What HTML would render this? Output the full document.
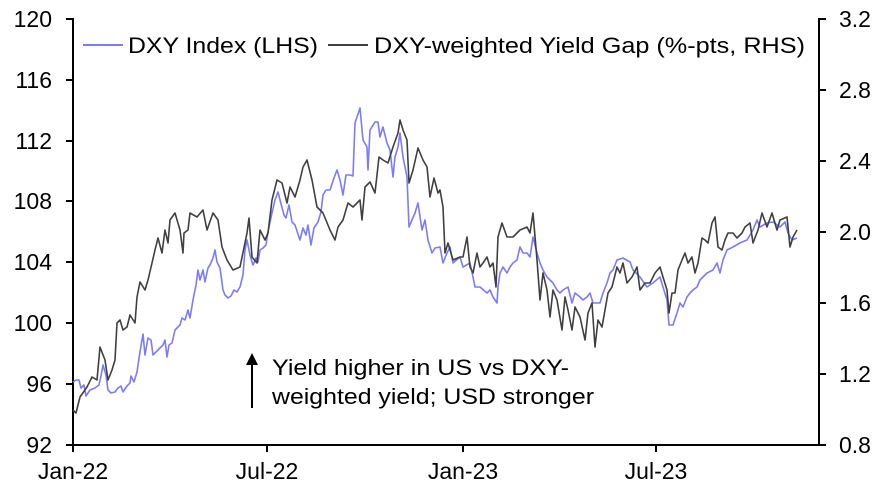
<!DOCTYPE html>
<html><head><style>body{margin:0;background:#fff}svg{display:block}text{font-family:"Liberation Sans",Arial,sans-serif;fill:#000}</style></head>
<body>
<svg width="886" height="489" viewBox="0 0 886 489" xmlns="http://www.w3.org/2000/svg">
<g stroke="#000" stroke-width="2" fill="none">
<line x1="73" y1="18" x2="73" y2="445"/>
<line x1="819" y1="18" x2="819" y2="445"/>
<line x1="72" y1="445" x2="820" y2="445"/>
<path d="M66 19H73M66 80H73M66 141H73M66 201H73M66 262H73M66 323H73M66 384H73M66 445H73"/>
<path d="M819 19H826M819 90H826M819 161H826M819 232H826M819 303H826M819 374H826M819 445H826"/>
<path d="M73 445V452M267 445V452M463 445V452M656 445V452"/>
</g>
<g font-size="23" text-anchor="end">
<text x="52" y="27">120</text><text x="52" y="88">116</text><text x="52" y="149">112</text><text x="52" y="209">108</text><text x="52" y="270">104</text><text x="52" y="331">100</text><text x="52" y="392">96</text><text x="52" y="453">92</text>
</g>
<g font-size="23">
<text x="839" y="27">3.2</text><text x="839" y="98">2.8</text><text x="839" y="169">2.4</text><text x="839" y="240">2.0</text><text x="839" y="311">1.6</text><text x="839" y="382">1.2</text><text x="839" y="453">0.8</text>
</g>
<g font-size="23" text-anchor="middle">
<text x="73" y="479">Jan-22</text><text x="267" y="479">Jul-22</text><text x="463" y="479">Jan-23</text><text x="656" y="479">Jul-23</text>
</g>
<line x1="83" y1="45" x2="123" y2="45" stroke="#7b7bff" stroke-width="2"/>
<text x="128" y="53" font-size="22" textLength="190" lengthAdjust="spacingAndGlyphs">DXY Index (LHS)</text>
<line x1="328" y1="45" x2="368" y2="45" stroke="#404040" stroke-width="2"/>
<text x="374" y="53" font-size="22" textLength="431" lengthAdjust="spacingAndGlyphs">DXY-weighted Yield Gap (%-pts, RHS)</text>
<line x1="252" y1="408" x2="252" y2="362" stroke="#000" stroke-width="2"/>
<path d="M246 365L252 353L258 365Z" fill="#000"/>
<text x="272" y="375" font-size="22" textLength="297" lengthAdjust="spacingAndGlyphs">Yield higher in US vs DXY-</text>
<text x="272" y="404" font-size="22" textLength="322" lengthAdjust="spacingAndGlyphs">weighted yield; USD stronger</text>
<polyline fill="none" stroke="#7b7bff" stroke-width="1.6" stroke-linejoin="round" points="73,382 76,380 79,380 81,388 84,385 86,396 90,390 95,388 99,385 101,376 103,365 106,375 108,390 111,393 115,392 118,388 121,386 123,392 127,386 130,383 131,376 134,382 137,372 140,352 143,334 145,355 148,338 151,340 153,355 158,350 163,345 165,340 167,357 169,345 172,343 175,330 180,325 182,318 185,320 188,310 190,318 193,300 196,285 198,270 200,280 203,270 205,282 208,268 210,265 213,258 215,250 217,262 220,268 221,275 223,290 225,295 228,298 231,296 234,290 237,292 240,287 243,275 245,250 247,240 250,255 253,265 256,258 258,262 260,250 263,248 266,245 268,232 272,213 275,200 278,192 280,200 284,215 286,218 289,205 292,222 295,225 298,234 300,240 303,228 306,235 308,225 311,245 314,228 318,222 321,212 323,195 326,190 330,190 334,178 337,170 340,180 343,195 346,175 350,175 353,176 355,123 360,108 363,140 367,147 368,170 370,130 375,122 378,122 380,137 383,127 387,143 390,150 393,177 395,157 398,147 400,133 403,157 407,177 409,227 412,220 415,213 418,203 422,230 425,220 428,240 432,253 435,248 440,247 443,263 447,253 450,247 453,263 460,257 463,267 470,263 473,277 475,287 480,287 487,293 490,290 493,297 497,303 498,287 500,273 503,267 507,273 510,267 513,263 517,260 520,247 523,253 527,253 530,257 533,237 537,253 540,263 543,270 547,277 550,280 553,283 557,290 560,293 563,290 568,287 572,303 575,293 580,297 583,300 587,297 590,293 593,303 600,303 603,293 607,283 610,273 613,270 617,260 623,258 630,262 633,270 640,277 647,287 653,283 660,277 663,287 667,300 669,325 673,325 677,313 680,303 683,307 687,297 690,293 693,290 697,287 700,280 707,273 713,270 717,263 720,273 723,260 727,250 733,247 740,243 747,240 753,230 757,220 760,227 767,223 773,222 780,227 785,222 788,233 792,240 797,238"/>
<polyline fill="none" stroke="#404040" stroke-width="1.6" stroke-linejoin="round" points="73,410 76,413 80,397 87,387 92,377 97,380 100,347 105,360 108,380 112,370 115,360 117,323 120,320 123,330 127,327 130,315 135,323 137,297 140,282 145,290 148,280 152,263 155,250 158,238 162,253 165,230 168,243 170,220 175,213 180,230 183,253 184,233 188,230 190,213 197,217 203,210 207,230 213,213 218,220 222,247 227,260 233,270 240,267 247,233 249,218 252,257 257,263 260,230 265,240 268,233 272,200 277,180 282,183 287,203 290,187 295,197 300,180 303,167 307,160 312,180 317,207 323,213 330,230 335,240 338,227 343,220 348,203 353,207 360,200 362,220 365,187 370,182 375,193 379,157 383,160 388,163 393,147 398,133 400,120 403,130 407,140 409,183 413,170 418,148 423,160 427,167 430,197 434,178 438,193 440,190 443,207 445,253 448,243 453,260 460,257 463,257 467,237 470,267 473,273 477,253 480,267 483,263 487,257 490,267 493,263 496,287 498,237 502,223 507,237 513,237 520,230 527,227 530,233 533,213 537,260 540,300 543,273 547,290 550,317 553,290 557,300 562,330 565,297 568,310 572,330 575,307 580,317 585,340 588,313 592,303 595,347 598,320 602,327 605,310 608,293 612,287 617,267 620,273 623,263 627,283 632,277 637,267 640,290 645,283 650,283 655,273 660,267 663,277 667,290 669,313 672,293 675,293 678,270 682,260 685,253 688,263 692,257 695,273 698,263 702,238 705,240 708,243 712,223 715,217 718,247 722,250 725,240 728,233 733,233 737,238 742,233 745,227 750,223 753,243 758,230 762,213 767,227 772,213 777,230 780,220 787,217 790,247 793,237 797,230"/>
</svg>
</body></html>
